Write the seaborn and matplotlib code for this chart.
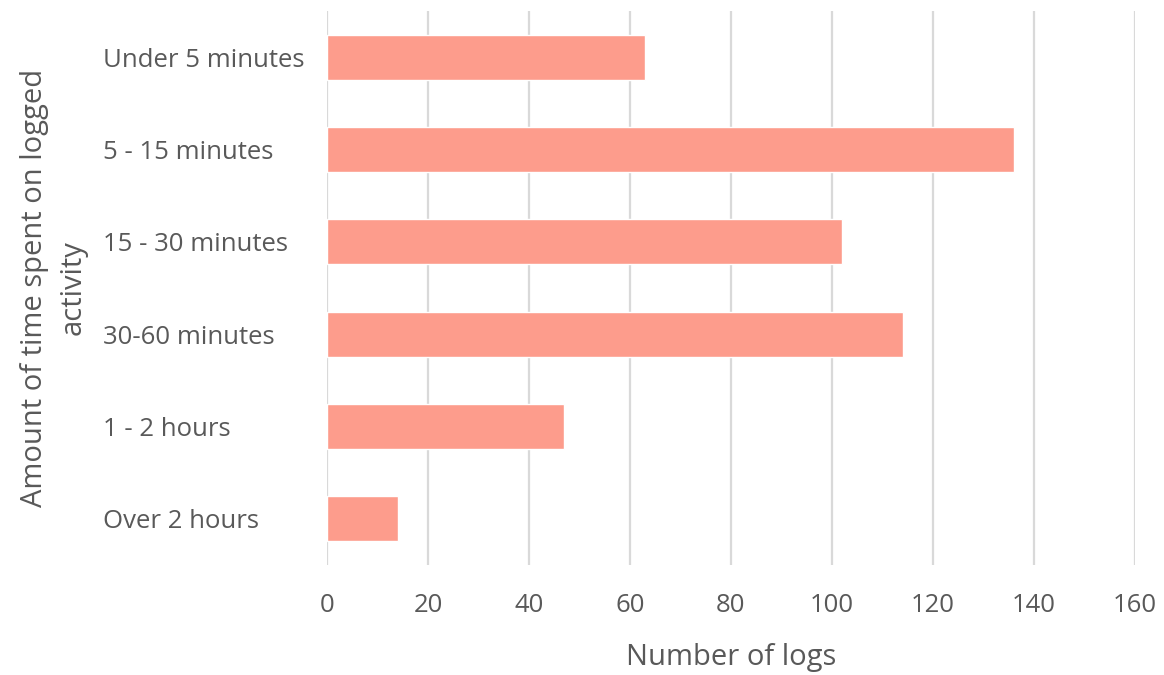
import matplotlib
matplotlib.use("Agg")
import matplotlib.pyplot as plt
import seaborn as sns
import pandas as pd

categories = ["Under 5 minutes", "5 - 15 minutes", "15 - 30 minutes",
              "30-60 minutes", "1 - 2 hours", "Over 2 hours"]
log_counts = [63, 136, 102, 114, 47, 14]
x_ticks = [0, 20, 40, 60, 80, 100, 120, 140, 160]

df = pd.DataFrame({"category": categories, "logs": log_counts})

sns.set_theme(style="white")
plt.rcParams["font.family"] = ["Open Sans", "DejaVu Sans"]

text_color = "#595959"
grid_color = "#d9d9d9"
bar_color = "#fd9c8c"

fig = plt.figure(figsize=(11.64, 6.75), dpi=100)
ax = fig.add_axes([0.2809, 0.163, 0.6942, 0.8207])

sns.barplot(data=df, x="logs", y="category", order=categories,
            color=bar_color, saturation=1, width=0.49, ax=ax)

ax.set_xlim(0, 160)
ax.set_ylim(5.5, -0.5)
ax.set_xticks(x_ticks)
ax.set_xticklabels([str(t) for t in x_ticks])
ax.xaxis.grid(True, color=grid_color, linewidth=1.6)
ax.set_axisbelow(True)
for s in ["top", "right", "bottom", "left"]:
    ax.spines[s].set_visible(False)

ax.tick_params(axis="x", length=0, pad=20, labelsize=18.5, labelcolor=text_color)
ax.tick_params(axis="y", length=0, pad=161, labelsize=18.5, labelcolor=text_color)
for lbl in ax.get_yticklabels():
    lbl.set_horizontalalignment("left")

ax.set_xlabel("Number of logs", fontsize=21, color=text_color, labelpad=18)
ax.set_ylabel("Amount of time spent on logged\nactivity", fontsize=21,
              color=text_color, linespacing=1.45)
ax.yaxis.set_label_coords(-0.296, 0.5)

fig.savefig("out.png", dpi=100)
